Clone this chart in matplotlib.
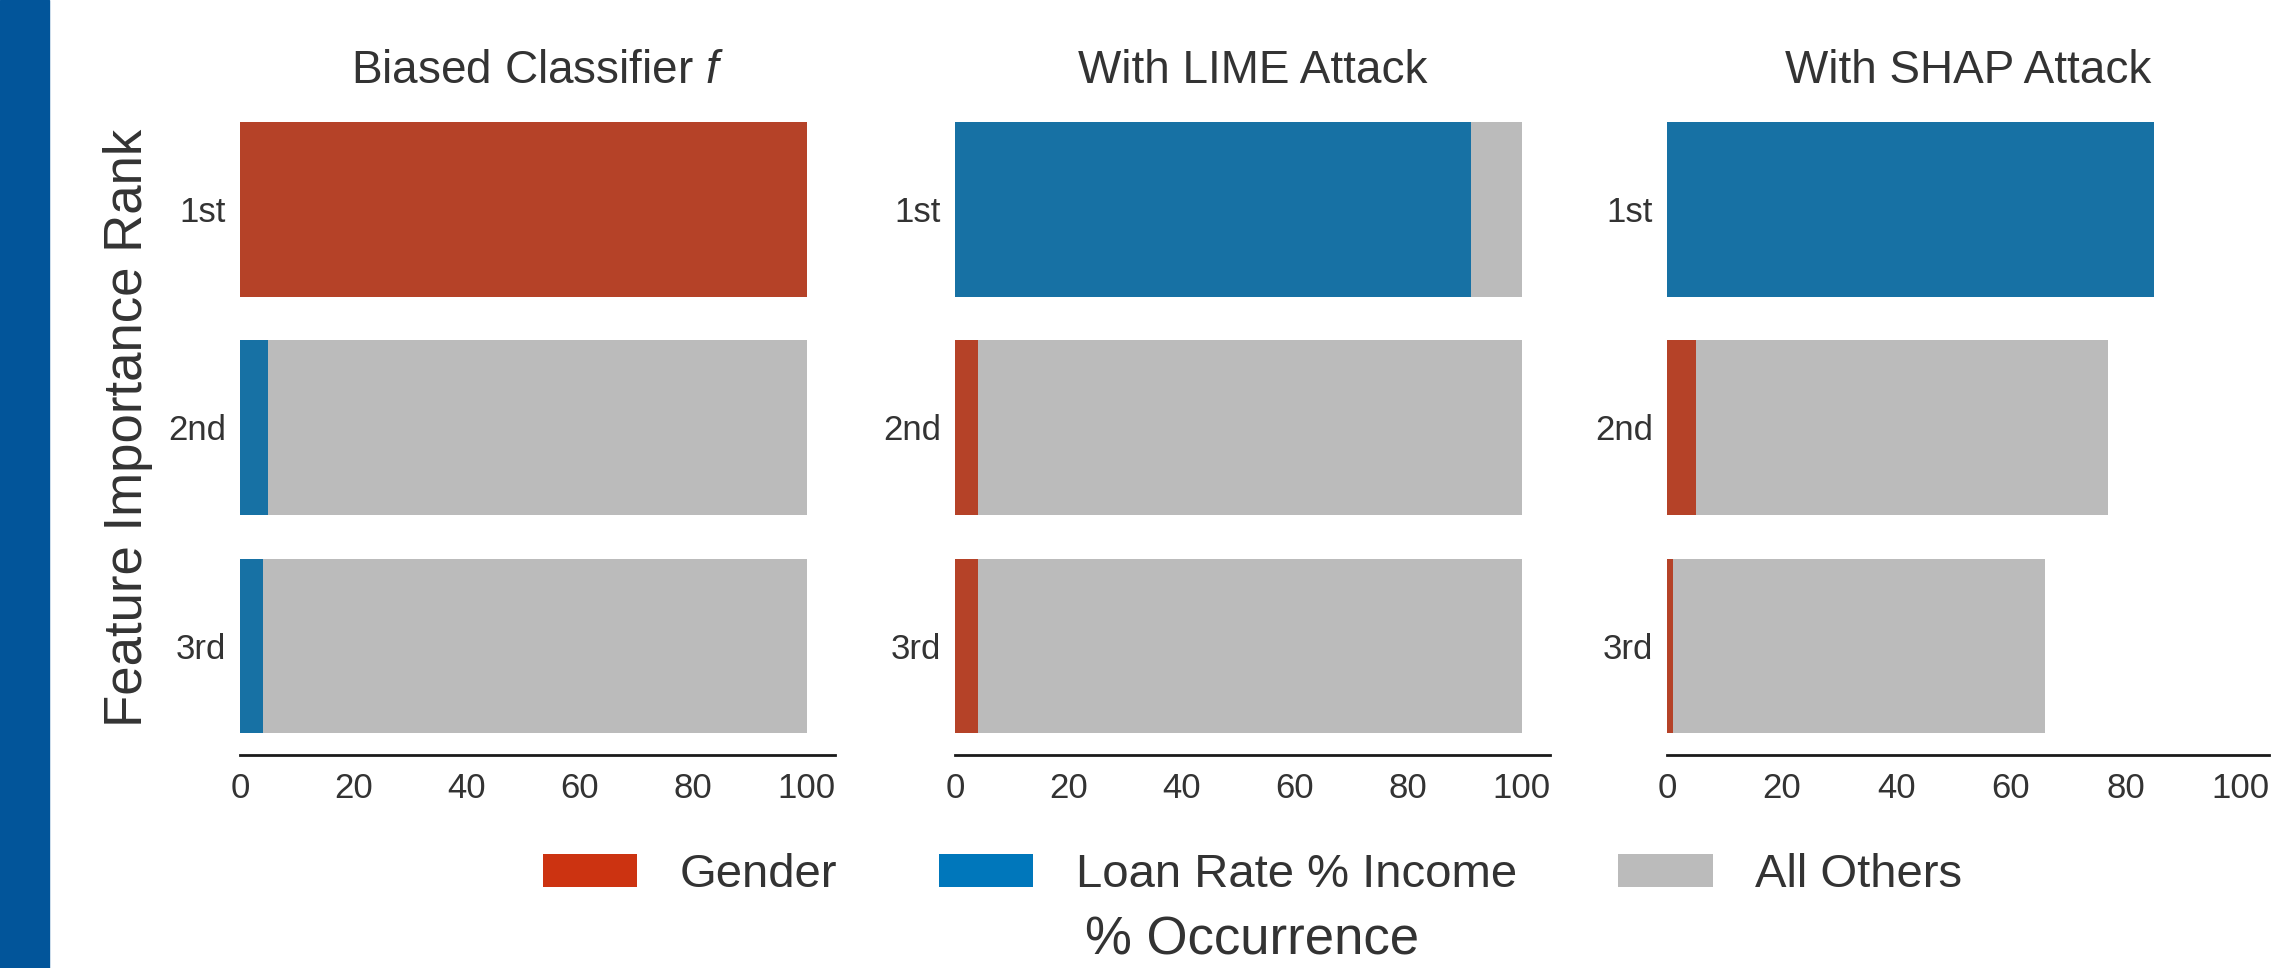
import colorsys

import matplotlib

matplotlib.use("Agg")
import matplotlib.colors as mcolors
import matplotlib.pyplot as plt
import numpy as np
from matplotlib.patches import Patch, Rectangle

plt.rcParams["font.family"] = ["Liberation Sans", "DejaVu Sans"]
plt.rcParams["mathtext.fontset"] = "custom"
plt.rcParams["mathtext.rm"] = "Liberation Sans"
plt.rcParams["mathtext.it"] = "Liberation Sans:italic"

# % of runs in which each feature lands at a given importance rank
titles = ["Biased Classifier $f$", "With LIME Attack", "With SHAP Attack"]
ranks = ["1st", "2nd", "3rd"]
features = ["Gender", "Loan Rate % Income", "All Others"]
gender = [[100, 0, 0], [0, 4, 4], [0, 5, 1]]
loan_rate = [[0, 5, 4], [91, 0, 0], [85, 0, 0]]
all_others = [[0, 95, 96], [9, 96, 96], [0, 72, 65]]
xticks = [0, 20, 40, 60, 80, 100]

colors = ["#CC3311", "#0077BB", "#BBBBBB"]
text_color = "0.2"


def desaturate(c, prop=0.75):
    r, g, b = mcolors.to_rgb(c)
    h, l, s = colorsys.rgb_to_hls(r, g, b)
    return colorsys.hls_to_rgb(h, l, s * prop)


W, H = 2291, 968
fig = plt.figure(figsize=(W / 100, H / 100), dpi=100)
fig.patch.set_facecolor("white")

# slide stripe on the left edge
fig.add_artist(Rectangle((0, 0), 49 / W, 1, transform=fig.transFigure,
                         color="#02559A", zorder=0))

ax_px = [(240, 595), (955, 595), (1667, 602)]
bottom = 1 - 755 / H
height = 655 / H

axes = []
for i, (x0, w) in enumerate(ax_px):
    ax = fig.add_axes([x0 / W, bottom, w / W, height])
    axes.append(ax)
    y = np.arange(len(ranks))
    left = np.zeros(len(ranks))
    for series, c in zip([gender, loan_rate, all_others], colors):
        vals = np.array(series[i], dtype=float)
        ax.barh(y, vals, left=left, height=0.8, color=desaturate(c), linewidth=0)
        left += vals

    ax.set_xlim(0, 105)
    ax.set_ylim(2.5, -0.5)
    ax.set_xticks(xticks)
    ax.set_yticks(y)
    ax.set_yticklabels(ranks)
    ax.tick_params(axis="both", length=0, labelsize=25, colors=text_color)
    ax.tick_params(axis="x", pad=12)
    ax.tick_params(axis="y", pad=10)
    for side in ["top", "right", "left"]:
        ax.spines[side].set_visible(False)
    ax.spines["bottom"].set_linewidth(2)
    ax.spines["bottom"].set_color("0.1")
    ax.set_title(titles[i], fontsize=33, color=text_color, pad=12)

axes[0].set_ylabel("Feature Importance Rank", fontsize=38, color=text_color,
                   labelpad=11)
axes[1].set_xlabel("% Occurrence", fontsize=38, color=text_color, labelpad=80)

handles = [Patch(facecolor=c, edgecolor="none") for c in colors]
axes[1].legend(handles, features, loc="center", bbox_to_anchor=(0.5, -0.183),
               ncol=3, frameon=False, fontsize=34, handlelength=2.0,
               handleheight=0.7, handletextpad=0.9, columnspacing=2.15,
               labelcolor=text_color)

fig.savefig("out.png", dpi=100)
